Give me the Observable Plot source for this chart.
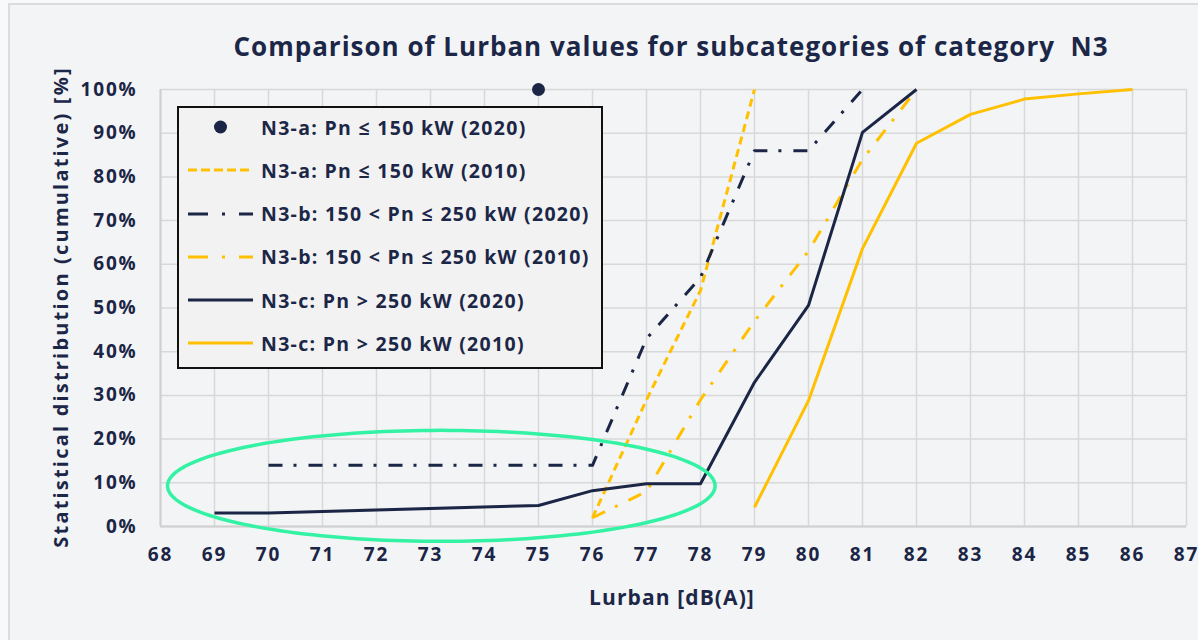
<!DOCTYPE html>
<html>
<head>
<meta charset="utf-8">
<script src="https://cdn.jsdelivr.net/npm/d3@7"></script>
<script src="https://cdn.jsdelivr.net/npm/@observablehq/plot@0.6"></script>
<style>
  html, body { margin: 0; padding: 0; background: #f8f9fb; }
  #wrap { position: relative; width: 1198px; height: 640px; overflow: hidden; font-family: "Open Sans", "Lato", sans-serif; color: #1c2748; }
  #card { position: absolute; left: 8px; top: 3px; right: 0; bottom: 0; background: #f3f4f6; border-left: 2px solid #dcdcdc; border-top: 2px solid #dcdcdc; }
  #chart { position: absolute; left: 0; top: 0; }
  #title { position: absolute; left: 0; width: 1342px; top: 46px; transform: translateY(-50%); text-align: center; font-size: 26px; font-weight: 700; letter-spacing: 1px; white-space: nowrap; }
  #ylabel { position: absolute; left: 60px; top: 307px; transform: translate(-50%, -50%) rotate(-90deg); font-size: 20px; font-weight: 700; letter-spacing: 2.2px; white-space: nowrap; }
  #xlabel { position: absolute; left: 672px; top: 597px; transform: translate(-50%, -50%); font-size: 21px; font-weight: 700; letter-spacing: 1.1px; white-space: nowrap; }
  #legend { position: absolute; left: 177px; top: 106px; width: 422px; height: 259px; border: 2px solid #111; background: #f2f2f2; }
  .item { position: absolute; left: 188px; height: 26px; display: flex; align-items: center; font-size: 19.5px; font-weight: 700; letter-spacing: 1.3px; white-space: nowrap; }
  .item svg { margin-right: 8px; }
</style>
</head>
<body>
<div id="wrap">
  <div id="card"></div>
  <div id="chart"></div>
  <div id="title"></div>
  <div id="ylabel"></div>
  <div id="xlabel"></div>
  <div id="legend"></div>
</div>
<script>
// ---- texts ----
const titleText = "Comparison of Lurban values for subcategories of category\u00a0 N3";
const xLabelText = "Lurban [dB(A)]";
const yLabelText = "Statistical distribution (cumulative) [%]";

// ---- ticks ----
const xTicks = [68, 69, 70, 71, 72, 73, 74, 75, 76, 77, 78, 79, 80, 81, 82, 83, 84, 85, 86, 87];
const yTicks = [0, 10, 20, 30, 40, 50, 60, 70, 80, 90, 100];

// ---- series (x = Lurban dB(A), y = cumulative %) ----
const seriesNames = [
  "N3-a: Pn \u2264 150 kW (2020)",
  "N3-a: Pn \u2264 150 kW (2010)",
  "N3-b: 150 < Pn \u2264 250 kW (2020)",
  "N3-b: 150 < Pn \u2264 250 kW (2010)",
  "N3-c: Pn > 250 kW (2020)",
  "N3-c: Pn > 250 kW (2010)"
];
const n3a2020X = [75];
const n3a2020Y = [100];
const n3a2010X = [76, 77, 78, 79];
const n3a2010Y = [2, 29, 54, 100];
const n3b2020X = [70, 76, 77, 78, 79, 80, 81];
const n3b2020Y = [14, 14, 43, 57, 86, 86, 100];
const n3b2010X = [76, 77, 78, 79, 80, 81, 82];
const n3b2010Y = [2, 8, 29, 47, 63, 84, 100];
const n3c2020X = [69, 70, 75, 76, 77, 78, 79, 80, 81, 82];
const n3c2020Y = [3.1, 3.1, 4.8, 8.2, 9.8, 9.8, 33, 50.6, 90.2, 100];
const n3c2010X = [79, 80, 81, 82, 83, 84, 85, 86];
const n3c2010Y = [4.4, 28.8, 63.6, 87.7, 94.3, 97.8, 99, 100];

// highlight ellipse (data units)
const ellipseCenter = [73.2, 9.3];
const ellipseRadii = [5.07, 12.7];

// ---- styles ----
const navy = "#1b2545";
const yellow = "#ffc000";
const mint = "#34f2a4";
const styles = [
  {color: navy, type: "dot"},
  {color: yellow, type: "line", dash: "8,5", legendDash: "9,4", width: 3},
  {color: navy, type: "line", dash: "14,11,3,12", legendDash: "20,14,3,14", width: 3},
  {color: yellow, type: "line", dash: "14,11,3,12", legendDash: "20,14,3,14", width: 3},
  {color: navy, type: "line", dash: null, width: 3},
  {color: yellow, type: "line", dash: null, width: 3}
];

const toRows = (xs, ys) => xs.map((x, i) => ({x, y: ys[i]}));
const lineSeries = [
  [toRows(n3a2010X, n3a2010Y), styles[1]],
  [toRows(n3b2020X, n3b2020Y), styles[2]],
  [toRows(n3b2010X, n3b2010Y), styles[3]],
  [toRows(n3c2020X, n3c2020Y), styles[4]],
  [toRows(n3c2010X, n3c2010Y), styles[5]]
];

const ellipsePts = d3.range(0, 361, 2).map(a => ({
  x: ellipseCenter[0] + ellipseRadii[0] * Math.cos(a * Math.PI / 180),
  y: ellipseCenter[1] + ellipseRadii[1] * Math.sin(a * Math.PI / 180)
}));

const chart = Plot.plot({
  width: 1198,
  height: 640,
  marginLeft: 160,
  marginRight: 12,
  marginTop: 89,
  marginBottom: 114,
  x: {domain: [68, 87], label: null},
  y: {domain: [0, 100], label: null},
  style: {background: "transparent", fontFamily: "'Open Sans', Lato, sans-serif", color: navy, overflow: "visible"},
  marks: [
    Plot.gridX(xTicks, {stroke: "#d8d8d8", strokeOpacity: 1, strokeWidth: 1.5}),
    Plot.gridY(yTicks, {stroke: "#d8d8d8", strokeOpacity: 1, strokeWidth: 1.5}),
    Plot.ruleY([0], {stroke: "#d0d0d0", strokeWidth: 2}),
    Plot.ruleX([68], {stroke: "#d0d0d0", strokeWidth: 2}),
    Plot.axisX({ticks: xTicks, tickSize: 0, tickPadding: 21, tickFormat: d => String(d), fontSize: 19, fontWeight: 700, fill: navy, label: null}),
    Plot.axisY({ticks: yTicks, tickSize: 0, tickPadding: 23, tickFormat: d => d + "%", fontSize: 19, fontWeight: 700, fill: navy, label: null}),
    ...lineSeries.map(([data, s]) => Plot.line(data, {
      x: "x", y: "y", stroke: s.color, strokeWidth: s.width,
      strokeDasharray: s.dash || undefined, strokeLinecap: "butt", strokeLinejoin: "round"
    })),
    Plot.dot(toRows(n3a2020X, n3a2020Y), {x: "x", y: "y", r: 6.5, fill: navy, stroke: "none"}),
    Plot.line(ellipsePts, {x: "x", y: "y", stroke: mint, strokeWidth: 3.5, curve: "linear-closed"})
  ]
});
d3.select(chart).selectAll("text").style("letter-spacing", "1.8px");
document.getElementById("chart").appendChild(chart);

document.getElementById("title").textContent = titleText;
document.getElementById("xlabel").textContent = xLabelText;
document.getElementById("ylabel").textContent = yLabelText;

// ---- legend ----
const legendCenters = [127, 170, 213.5, 256.5, 300, 343];
const wrap = document.getElementById("wrap");
seriesNames.forEach((name, i) => {
  const s = styles[i];
  const item = document.createElement("div");
  item.className = "item";
  item.style.top = (legendCenters[i] - 13) + "px";
  const svg = d3.create("svg").attr("width", 65).attr("height", 26);
  if (s.type === "dot") {
    svg.append("circle").attr("cx", 32.5).attr("cy", 13).attr("r", 6.5).attr("fill", s.color);
  } else {
    const ln = svg.append("line").attr("x1", 0).attr("x2", 65).attr("y1", 13).attr("y2", 13)
      .attr("stroke", s.color).attr("stroke-width", s.width);
    if (s.legendDash) ln.attr("stroke-dasharray", s.legendDash);
  }
  item.appendChild(svg.node());
  const span = document.createElement("span");
  span.textContent = name;
  item.appendChild(span);
  wrap.appendChild(item);
});
</script>
</body>
</html>
